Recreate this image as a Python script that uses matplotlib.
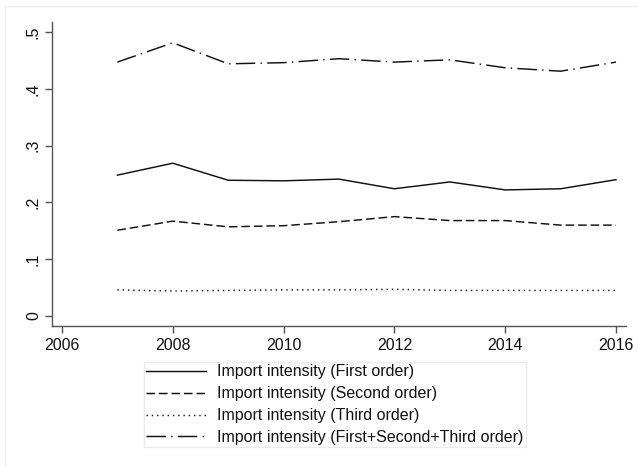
import matplotlib
matplotlib.use("Agg")
import matplotlib.pyplot as plt
from matplotlib.patches import Rectangle

plt.rcParams['font.family'] = ['Liberation Sans', 'DejaVu Sans']
plt.rcParams['lines.scale_dashes'] = False

years = [2007, 2008, 2009, 2010, 2011, 2012, 2013, 2014, 2015, 2016]
first_order = [0.248, 0.269, 0.239, 0.238, 0.241, 0.224, 0.236, 0.222, 0.224, 0.240]
second_order = [0.151, 0.167, 0.157, 0.159, 0.166, 0.175, 0.168, 0.168, 0.160, 0.160]
third_order = [0.046, 0.044, 0.045, 0.046, 0.046, 0.047, 0.045, 0.045, 0.045, 0.045]
total_order = [0.447, 0.481, 0.444, 0.446, 0.453, 0.447, 0.451, 0.437, 0.431, 0.447]

labels = [
    "Import intensity (First order)",
    "Import intensity (Second order)",
    "Import intensity (Third order)",
    "Import intensity (First+Second+Third order)",
]
x_ticks = [2006, 2008, 2010, 2012, 2014, 2016]
y_ticks = [0, 0.1, 0.2, 0.3, 0.4, 0.5]
y_ticklabels = ["0", ".1", ".2", ".3", ".4", ".5"]

W, H = 638, 466
fig = plt.figure(figsize=(W / 100, H / 100), dpi=100)
fig.patch.set_facecolor('white')

# faint outer graph-region outline
fig.patches.append(Rectangle((5 / W, -0.1), 1.2, (H - 6) / H + 0.1,
                             transform=fig.transFigure, fill=False,
                             edgecolor='#ececec', linewidth=1.0))

left, right, top, bottom = 52, 626, 22, 326
ax = fig.add_axes([left / W, (H - bottom) / H, (right - left) / W, (bottom - top) / H])

lw = 1.05
ink = '#111111'
ax.plot(years, first_order, color=ink, lw=lw, linestyle='-', label=labels[0])
ax.plot(years, second_order, color=ink, lw=lw, linestyle=(0, (6.2, 2.8)), label=labels[1])
ax.plot(years, third_order, color=ink, lw=lw, linestyle=(0, (1.0, 2.8)), label=labels[2])
ax.plot(years, total_order, color=ink, lw=lw, linestyle=(0, (14.0, 3.8, 1.0, 3.8)), label=labels[3])

ax.set_xlim(2005.82, 2016.18)
ax.set_ylim(-0.0176, 0.5176)
ax.set_xticks(x_ticks)
ax.set_yticks(y_ticks)
ax.set_yticklabels(y_ticklabels, rotation=90, va='center')

for s in ['top', 'right']:
    ax.spines[s].set_visible(False)
for s in ['left', 'bottom']:
    ax.spines[s].set_color('#555555')
    ax.spines[s].set_linewidth(1.0)
ax.tick_params(axis='both', direction='out', length=5, width=1.0, color='#555555',
               labelsize=11.5, labelcolor='#111111')
ax.tick_params(axis='y', pad=3)
ax.tick_params(axis='x', pad=4)

leg = fig.legend(loc='upper left', bbox_to_anchor=(144 / W, 1 - 362 / H),
                 frameon=True, fancybox=False, fontsize=11.5,
                 handlelength=3.75, handletextpad=0.7, labelspacing=0.43,
                 borderpad=0.15, borderaxespad=0)
leg.get_frame().set_edgecolor('#e6e6e6')
leg.get_frame().set_linewidth(1.0)
for t in leg.get_texts():
    t.set_color('#111111')

fig.savefig('out.png', dpi=100, facecolor='white')
